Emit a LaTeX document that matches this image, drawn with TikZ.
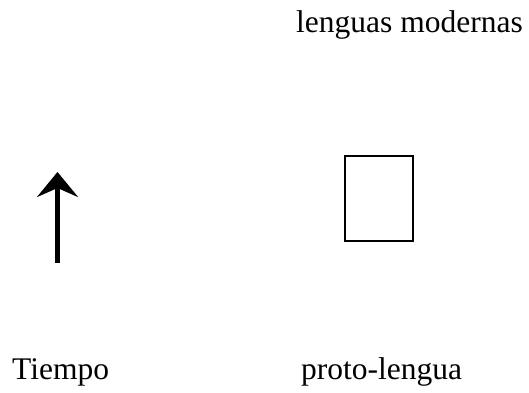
\documentclass[tikz,border=0pt]{standalone}
\usepackage{fontspec}
\setmainfont{Liberation Serif}
\usetikzlibrary{arrows.meta}

\begin{document}
\begin{tikzpicture}[
x=1pt, y=-1pt,
label_text/.style={anchor=base west, inner sep=0pt, font=\fontsize{31.5}{36}\selectfont},
empty_box/.style={rectangle, draw=black, fill=white, line width=1.5pt, minimum width=68pt, minimum height=85pt, inner sep=0pt},
time_arrow/.style={-{Stealth[length=25pt, width=41pt, inset=9pt]}, line width=4.5pt}
]
\useasboundingbox (0,0) rectangle (529,392);

% \node[type](name_of_node) at (x,y) {node_text}
\node[label_text](modern_languages) at (296,32) {lenguas modernas};
\node[label_text](time_label) at (12,379) {Tiempo};
\node[label_text](proto_language) at (301,379) {proto-lengua};

\node[empty_box](proto_box) at (379,198.5) {};

\coordinate(time_start) at (57.5,263);
\coordinate(time_end) at (57.5,172);

% \draw[->](name_of_node) -- (name_of_node)
\draw[time_arrow](time_start) -- (time_end);

\end{tikzpicture}
\end{document}
